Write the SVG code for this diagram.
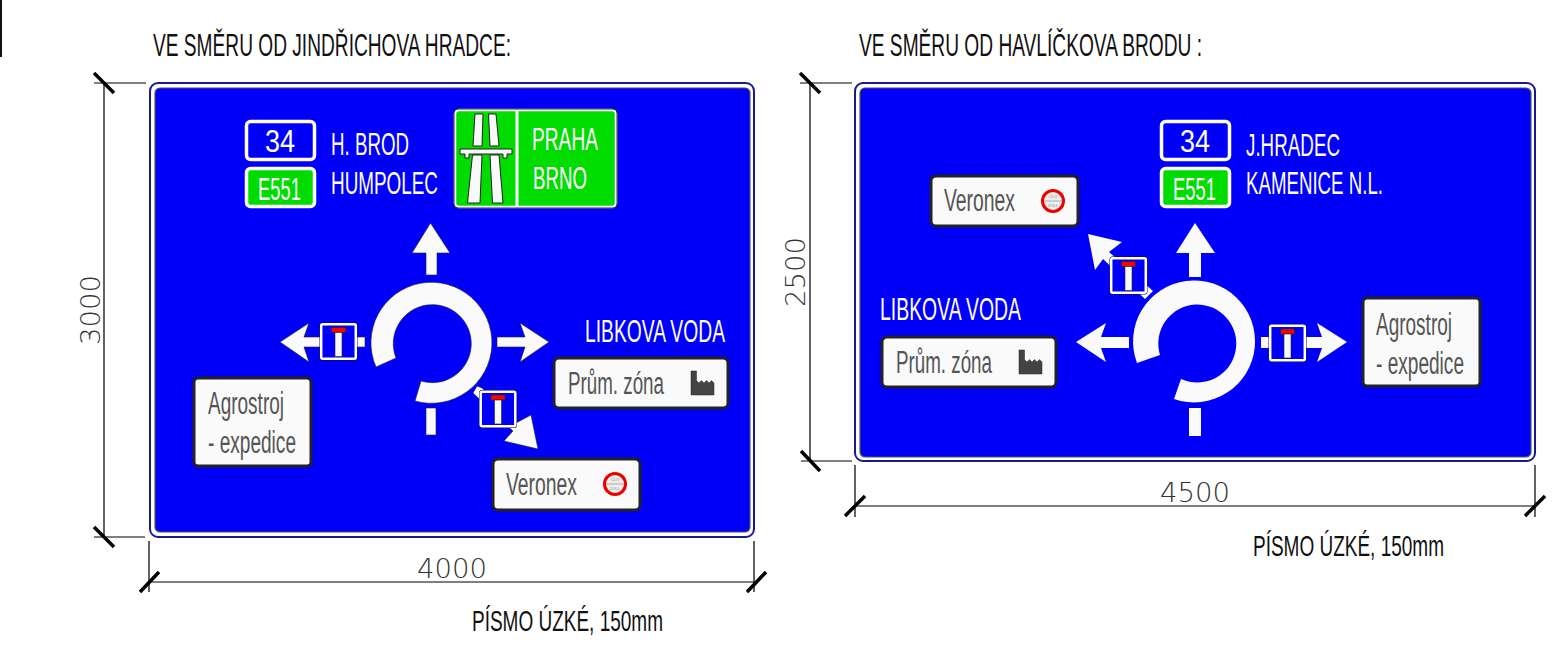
<svg xmlns="http://www.w3.org/2000/svg" width="1556" height="651" viewBox="0 0 1556 651">
<style>
text{font-family:"Liberation Sans Narrow","Liberation Sans",sans-serif}
.h{font-size:31px;fill:#111}
.p{font-size:29px;fill:#111}
.w{font-size:31px;fill:#fff}
.g{font-size:31px;fill:#555}
.dim{font-family:"DejaVu Sans Light","DejaVu Sans",sans-serif;font-weight:200;font-size:27px;fill:#333}
.ext{stroke:#555;stroke-width:1.6;fill:none}
.thin{stroke:#111;stroke-width:1.3;fill:none}
.tick{stroke:#000;stroke-width:3.5;fill:none}
.outer{fill:#fff;stroke:#1a1a8c;stroke-width:2}
.blue{fill:#0000fa;stroke:#555;stroke-width:1.2}
.arrow{fill:#fafafa;stroke:#222;stroke-width:.6}
.arrowb{fill:#fafafa}
.box{fill:#fafafa;stroke:#222;stroke-width:3}
.rt{stroke:#fff;stroke-width:3.5}
</style>
<defs>
<g id="tsign">
<rect x="-18.500" y="-18.500" width="37" height="37" rx="2" fill="#0000fa" stroke="#111" stroke-width="1"/>
<rect x="-17.300" y="-17.300" width="34.600" height="34.600" rx="1.500" fill="none" stroke="#fff" stroke-width="2.500"/>
<rect x="-7" y="-14" width="14" height="5" fill="#f00" stroke="#222" stroke-width=".6"/>
<rect x="-3.500" y="-9" width="7" height="24" fill="#fafafa" stroke="#222" stroke-width=".6"/>
</g>
<g id="factory">
<path d="M0 24V0H5.500V9.500L8 12L10.500 9.500L13 12L15.500 9.500L18 12L20.500 9.500L23 12V24Z" fill="#444" stroke="#222" stroke-width=".5"/>
</g>
<g id="noentry">
<circle r="10.500" fill="#eee" stroke="#e00" stroke-width="3"/>
<path d="M-9 0H9" stroke="#aaa" stroke-width="1"/>
<text y="-3" font-size="4" text-anchor="middle" fill="#888">CLO</text>
<text y="6" font-size="4" text-anchor="middle" fill="#888">ZOLL</text>
</g>
</defs>
<path d="M1 0V57" stroke="#111" stroke-width="2"/>
<g id="labels">
<text class="h" x="153" y="56" textLength="358" lengthAdjust="spacingAndGlyphs">VE SMĚRU OD JINDŘICHOVA HRADCE:</text>
<text class="h" x="859" y="56" textLength="343" lengthAdjust="spacingAndGlyphs">VE SMĚRU OD HAVLÍČKOVA BRODU :</text>
<text class="p" x="472" y="631" textLength="191" lengthAdjust="spacingAndGlyphs">PÍSMO ÚZKÉ, 150mm</text>
<text class="p" x="1253" y="556" textLength="191" lengthAdjust="spacingAndGlyphs">PÍSMO ÚZKÉ, 150mm</text>
<text class="dim" x="417" y="578" textLength="70" lengthAdjust="spacingAndGlyphs">4000</text>
<text class="dim" x="1160" y="502" textLength="70" lengthAdjust="spacingAndGlyphs">4500</text>
<text class="dim" transform="translate(100 345) rotate(-90)" textLength="70" lengthAdjust="spacingAndGlyphs">3000</text>
<text class="dim" transform="translate(805 307) rotate(-90)" textLength="70" lengthAdjust="spacingAndGlyphs">2500</text>
</g>
<g id="connectors">
<path class="ext" d="M94 83H146M94 537H145M800 83H852M801 461H852M149 582H757M855 506H1535"/>
<path class="thin" d="M104 83V537M810 83V461M149 541V592M754 541V592M855 465V517M1535 465V517"/>
<path class="tick" d="M94 73L114 93M94 527L114 547M800 73L820 93M801 451L820 471M140 592L159 572M747 592L766 572M845 516L865 496M1525 516L1545 496"/>
</g>
<g id="sign-left">
<rect class="outer" x="150" y="83" width="604" height="454" rx="8"/>
<rect class="blue" x="155" y="88" width="595" height="444" rx="5"/>
</g>
<g id="sign-right">
<rect class="outer" x="855" y="83" width="680" height="378" rx="8"/>
<rect class="blue" x="860" y="88" width="671" height="369" rx="5"/>
</g>
<g id="left-routes">
<rect class="rt" x="246.500" y="121.500" width="68" height="38" rx="4" fill="#0000fa"/>
<text class="w" x="265" y="152" textLength="30" lengthAdjust="spacingAndGlyphs">34</text>
<rect class="rt" x="246.500" y="168.500" width="68" height="38" rx="4" fill="#00dc00"/>
<text class="w" x="258" y="200" textLength="43" lengthAdjust="spacingAndGlyphs">E551</text>
<text class="w" x="331" y="155" textLength="78" lengthAdjust="spacingAndGlyphs">H. BROD</text>
<text class="w" x="331" y="194" textLength="107" lengthAdjust="spacingAndGlyphs">HUMPOLEC</text>
</g>
<g id="left-motorway">
<rect x="455" y="110" width="161" height="97" rx="4" fill="#00dc00" stroke="#fff" stroke-width="2.500"/>
<rect x="454" y="109" width="163" height="99" rx="4" fill="none" stroke="#333" stroke-width="1"/>
<path d="M517 111V206" stroke="#fff" stroke-width="3"/>
<path class="arrow" d="M475 114H483L482 146H473ZM488.500 114H496L499 146H490ZM472.500 155H482L480 203H467.500ZM490 155H499L503 203H492.500Z" style="stroke:#222;stroke-width:1"/>
<path d="M460 149H512V154H507V158H503V154H469V158H465V154H460Z" fill="#fafafa" stroke="#222" stroke-width="1"/>
<text class="w" x="532" y="150" textLength="66" lengthAdjust="spacingAndGlyphs">PRAHA</text>
<text class="w" x="533" y="189" textLength="54" lengthAdjust="spacingAndGlyphs">BRNO</text>
</g>
<g id="left-roundabout">
<path class="arrow" d="M376 367A60.500 60.500 0 1 1 415 401L421 381A39 39 0 1 0 396 358Z"/>
<path class="arrow" d="M430.500 223L450 253H437V275H426V253H412Z"/>
<path class="arrow" d="M280 342L309 323L304 337H365V347H304L309 362Z"/>
<path class="arrow" d="M549 342L520 323L525 337H497V347H525L520 362Z"/>
<rect class="arrow" x="426" y="408" width="10" height="27"/>
<path class="arrow" d="M477 386L482 388L516 423L531 415L538 449L504 441L513 431L473 393Z"/>
<use href="#tsign" x="338.500" y="341.500"/>
<use href="#tsign" x="498" y="409"/>
</g>
<g id="left-libkova">
<text class="w" x="585" y="342" textLength="140" lengthAdjust="spacingAndGlyphs">LIBKOVA VODA</text>
</g>
<g id="left-prum">
<rect class="box" x="554" y="358" width="174" height="50" rx="5"/>
<text class="g" x="568" y="394" textLength="96" lengthAdjust="spacingAndGlyphs">Prům. zóna</text>
<use href="#factory" x="691" y="371"/>
</g>
<g id="left-agrostroj">
<rect class="box" x="194" y="378" width="117" height="88" rx="4"/>
<text class="g" x="208" y="414" textLength="76" lengthAdjust="spacingAndGlyphs">Agrostroj</text>
<text class="g" x="208" y="453" textLength="88" lengthAdjust="spacingAndGlyphs">- expedice</text>
</g>
<g id="left-veronex">
<rect class="box" x="493" y="459" width="147" height="51" rx="5"/>
<text class="g" x="506" y="495" textLength="71" lengthAdjust="spacingAndGlyphs">Veronex</text>
<use href="#noentry" x="615" y="484"/>
</g>
<g id="right-routes">
<rect class="rt" x="1161.500" y="121.500" width="68" height="38" rx="4" fill="#0000fa"/>
<text class="w" x="1180" y="152" textLength="30" lengthAdjust="spacingAndGlyphs">34</text>
<rect class="rt" x="1161.500" y="168.500" width="68" height="38" rx="4" fill="#00dc00"/>
<text class="w" x="1173" y="200" textLength="43" lengthAdjust="spacingAndGlyphs">E551</text>
<text class="w" x="1246" y="156" textLength="94" lengthAdjust="spacingAndGlyphs">J.HRADEC</text>
<text class="w" x="1246" y="194" textLength="137" lengthAdjust="spacingAndGlyphs">KAMENICE N.L.</text>
</g>
<g id="right-roundabout">
<path class="arrowb" d="M1137 363A61 61 0 1 1 1174 399L1181 379A39 39 0 1 0 1160 355Z"/>
<path class="arrowb" d="M1195 223L1215 253H1201V277H1189V253H1176Z"/>
<path class="arrowb" d="M1076 342L1106 323L1101 337H1129V348H1101L1106 362Z"/>
<path class="arrowb" d="M1347 342L1317 323L1322 337H1261V348H1322L1317 362Z"/>
<rect class="arrowb" x="1189" y="408" width="12" height="28"/>
<path class="arrowb" d="M1088 234L1122 242L1109 252L1153 291L1145 299L1103 259L1095 270Z"/>
<use href="#tsign" x="1128.500" y="275.500"/>
<use href="#tsign" x="1287.500" y="343"/>
</g>
<g id="right-veronex">
<rect class="box" x="931" y="176" width="147" height="50" rx="5"/>
<text class="g" x="944" y="211" textLength="71" lengthAdjust="spacingAndGlyphs">Veronex</text>
<use href="#noentry" x="1053" y="201"/>
</g>
<g id="right-libkova">
<text class="w" x="880" y="320" textLength="141" lengthAdjust="spacingAndGlyphs">LIBKOVA VODA</text>
</g>
<g id="right-prum">
<rect class="box" x="882" y="337" width="174" height="50" rx="5"/>
<text class="g" x="896" y="373" textLength="96" lengthAdjust="spacingAndGlyphs">Prům. zóna</text>
<use href="#factory" x="1019" y="350"/>
</g>
<g id="right-agrostroj">
<rect class="box" x="1363" y="298" width="117" height="88" rx="4"/>
<text class="g" x="1376" y="335" textLength="76" lengthAdjust="spacingAndGlyphs">Agrostroj</text>
<text class="g" x="1376" y="374" textLength="88" lengthAdjust="spacingAndGlyphs">- expedice</text>
</g>
</svg>
